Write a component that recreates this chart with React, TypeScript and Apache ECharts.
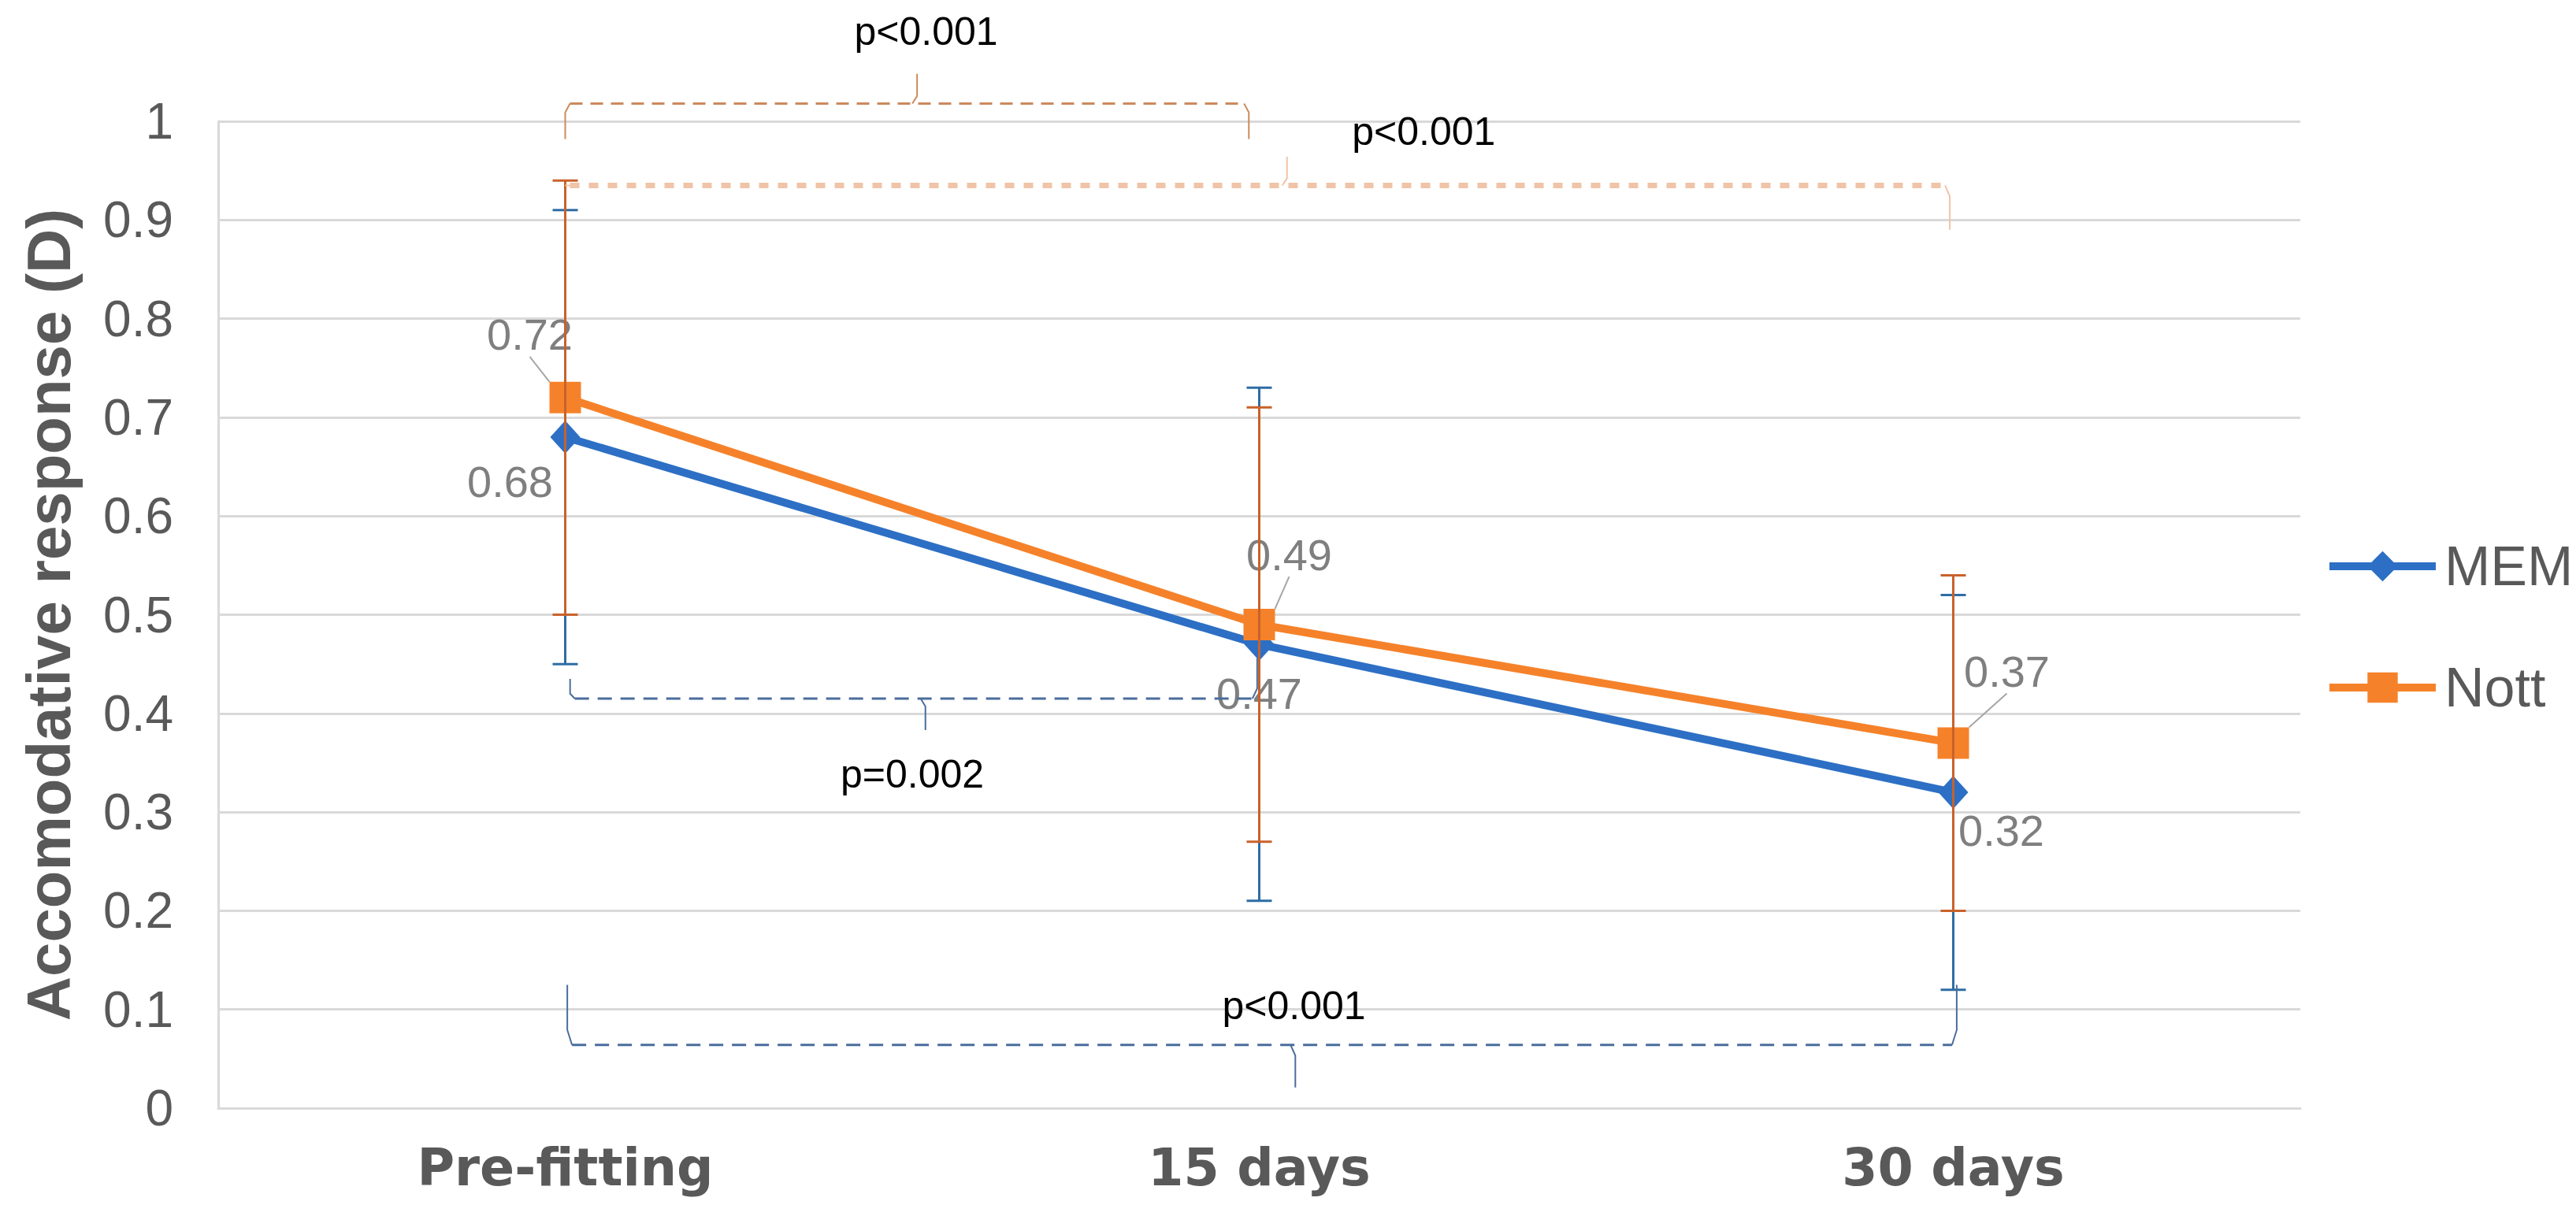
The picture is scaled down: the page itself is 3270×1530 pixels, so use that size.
import React, { useEffect, useRef } from "react";
import * as echarts from "echarts";

const categories = ["Pre-fitting", "15 days", "30 days"];
const yTicks = { min: 0, max: 1, interval: 0.1 };

const memMean = [0.68, 0.47, 0.32];
const memLow = [0.45, 0.21, 0.12];
const memHigh = [0.91, 0.73, 0.52];

const nottMean = [0.72, 0.49, 0.37];
const nottLow = [0.5, 0.27, 0.2];
const nottHigh = [0.94, 0.71, 0.54];

// significance brackets, in category index / value units
const bracketLabels = ["p<0.001", "p<0.001", "p=0.002", "p<0.001"];
const bracketFrom = [0, 0, 0.007, 0.003];
const bracketTo = [0.985, 1.995, 0.997, 2.005];
const bracketLevel = [1.018, 0.935, 0.415, 0.064];
const bracketFromEnd = [0.982, 0.935, 0.435, 0.125];
const bracketToEnd = [0.982, 0.89, 0.456, 0.125];
const bracketTickAt = [0.507, 1.04, 0.519, 1.052];
const bracketTickEnd = [1.048, 0.964, 0.383, 0.021];
const bracketLabelAt = [0.52, 1.237, 0.5, 1.05];
const bracketLabelLevel = [1.091, 0.99, 0.338, 0.104];

const FONT = "'Liberation Sans', Arial, sans-serif";

export default function App() {
  const ref = useRef<HTMLDivElement>(null);

  useEffect(() => {
    if (!ref.current) return;
    const chart = echarts.init(ref.current, null, { renderer: "svg" });

    const blue = "#2D6FC4";
    const orange = "#F5822A";
    const blueErr = "#2E6DA4";
    const orangeErr = "#C8622A";

    const bracketStyles = [
      { color: "#CC8A5E", width: 3, dash: [16, 10] },
      { color: "#F0C4A8", width: 7, dash: [12, 12] },
      { color: "#4A6D9C", width: 3, dash: [18, 11] },
      { color: "#4A6D9C", width: 3, dash: [18, 11] },
    ];

    const memOffsets = [
      [-70, 57],
      [0, 62],
      [61, 48],
    ];
    const nottOffsets = [
      [-45, -80],
      [38, -89],
      [68, -91],
    ];

    const errorSeries = (name: string, low: number[], high: number[], color: string, z: number) => ({
      type: "custom",
      name,
      z,
      clip: false,
      encode: { x: 0, y: [1, 2] },
      data: categories.map((_, i) => [i, low[i], high[i]]),
      renderItem: (params: any, api: any) => {
        const i = api.value(0);
        const lo = api.coord([i, api.value(1)]);
        const hi = api.coord([i, api.value(2)]);
        const x = lo[0];
        const w = 16;
        const st = { stroke: color, lineWidth: 3 };
        return {
          type: "group",
          children: [
            { type: "line", shape: { x1: x, y1: lo[1], x2: x, y2: hi[1] }, style: st },
            { type: "line", shape: { x1: x - w, y1: lo[1], x2: x + w, y2: lo[1] }, style: st },
            { type: "line", shape: { x1: x - w, y1: hi[1], x2: x + w, y2: hi[1] }, style: st },
          ],
        };
      },
    });

    const bracketSeries = {
      type: "custom",
      name: "brackets",
      z: 6,
      clip: false,
      encode: { x: 0, y: 1 },
      data: bracketLabels.map((_, i) => [bracketFrom[i], bracketLevel[i]]),
      renderItem: (params: any, api: any) => {
        const k = params.dataIndex;
        const p0 = api.coord([0, 0]);
        const p1 = api.coord([1, 0]);
        const px = (c: number) => p0[0] + (p1[0] - p0[0]) * c;
        const py = (v: number) => api.coord([0, v])[1];
        const s = bracketStyles[k];
        const xL = px(bracketFrom[k]);
        const xR = px(bracketTo[k]);
        const yH = py(bracketLevel[k]);
        const solid = { stroke: s.color, lineWidth: 2, fill: "none" };
        return {
          type: "group",
          children: [
            {
              type: "line",
              shape: { x1: xL + 6, y1: yH, x2: xR - 6, y2: yH },
              style: { stroke: s.color, lineWidth: s.width, lineDash: s.dash },
            },
            {
              type: "polyline",
              shape: { points: [[xL + 6, yH], [xL, yH + (py(bracketFromEnd[k]) - yH) * 0.25], [xL, py(bracketFromEnd[k])]] },
              style: solid,
            },
            {
              type: "polyline",
              shape: { points: [[xR - 6, yH], [xR, yH + (py(bracketToEnd[k]) - yH) * 0.25], [xR, py(bracketToEnd[k])]] },
              style: solid,
            },
            {
              type: "polyline",
              shape: {
                points: [
                  [px(bracketTickAt[k]) - 6, yH],
                  [px(bracketTickAt[k]), yH + (py(bracketTickEnd[k]) - yH) * 0.25],
                  [px(bracketTickAt[k]), py(bracketTickEnd[k])],
                ],
              },
              style: solid,
            },
            {
              type: "text",
              style: {
                text: bracketLabels[k],
                x: px(bracketLabelAt[k]),
                y: py(bracketLabelLevel[k]),
                fill: "#000000",
                font: `50px ${FONT}`,
                align: "center",
                verticalAlign: "middle",
              },
            },
          ],
        };
      },
    };

    const labelBase = {
      show: true,
      position: "inside",
      fontSize: 56,
      color: "#7F7F7F",
      fontFamily: FONT,
      formatter: (p: any) => Number(p.value).toFixed(2),
    };

    const option: any = {
      animation: false,
      backgroundColor: "#ffffff",
      grid: { left: 277, right: 350, top: 154, bottom: 123, containLabel: false },
      legend: {
        orient: "vertical",
        left: 2947,
        top: 679,
        itemWidth: 135,
        itemHeight: 48,
        itemGap: 84,
        data: ["MEM", "Nott"],
        lineStyle: { width: 10 },
        textStyle: { fontSize: 70, color: "#595959", fontFamily: FONT, lineHeight: 48, padding: [0, 0, 0, 6] },
      },
      xAxis: {
        type: "category",
        data: categories,
        boundaryGap: true,
        axisLine: { show: true, lineStyle: { color: "#D9D9D9", width: 3 } },
        axisTick: { show: false },
        axisLabel: {
          interval: 0,
          margin: 43,
          fontSize: 65,
          lineHeight: 65,
          fontWeight: "bold",
          color: "#595959",
          fontFamily: "'DejaVu Sans', sans-serif",
        },
        splitLine: { show: false },
      },
      yAxis: {
        type: "value",
        min: yTicks.min,
        max: yTicks.max,
        interval: yTicks.interval,
        name: "Accomodative response (D)",
        nameLocation: "middle",
        nameRotate: 90,
        nameGap: 170,
        nameTextStyle: { fontSize: 78, fontWeight: "bold", color: "#595959", fontFamily: FONT, lineHeight: 90 },
        axisLine: { show: true, lineStyle: { color: "#D9D9D9", width: 3 } },
        axisTick: { show: false },
        axisLabel: { margin: 57, fontSize: 64, color: "#595959", fontFamily: FONT },
        splitLine: { show: true, lineStyle: { color: "#D9D9D9", width: 3 } },
      },
      series: [
        {
          type: "line",
          name: "MEM",
          data: memMean,
          z: 2,
          symbol: "diamond",
          symbolSize: [38, 42],
          lineStyle: { color: blue, width: 10 },
          itemStyle: { color: blue },
          label: labelBase,
          labelLayout: (p: any) => ({ dx: memOffsets[p.dataIndex][0], dy: memOffsets[p.dataIndex][1] }),
        },
        {
          type: "line",
          name: "Nott",
          data: nottMean,
          z: 3,
          symbol: "rect",
          symbolSize: 40,
          lineStyle: { color: orange, width: 10 },
          itemStyle: { color: orange },
          label: labelBase,
          labelLine: { show: true, lineStyle: { color: "#A6A6A6", width: 2 } },
          labelLayout: (p: any) => ({ dx: nottOffsets[p.dataIndex][0], dy: nottOffsets[p.dataIndex][1] }),
        },
        errorSeries("MEM error", memLow, memHigh, blueErr, 4),
        errorSeries("Nott error", nottLow, nottHigh, orangeErr, 5),
        bracketSeries,
      ],
    };

    chart.setOption(option);
    return () => chart.dispose();
  }, []);

  return (
    <div
      ref={ref}
      style={{ position: "fixed", left: 0, top: 0, width: 3270, height: 1530, background: "#fff" }}
    />
  );
}
